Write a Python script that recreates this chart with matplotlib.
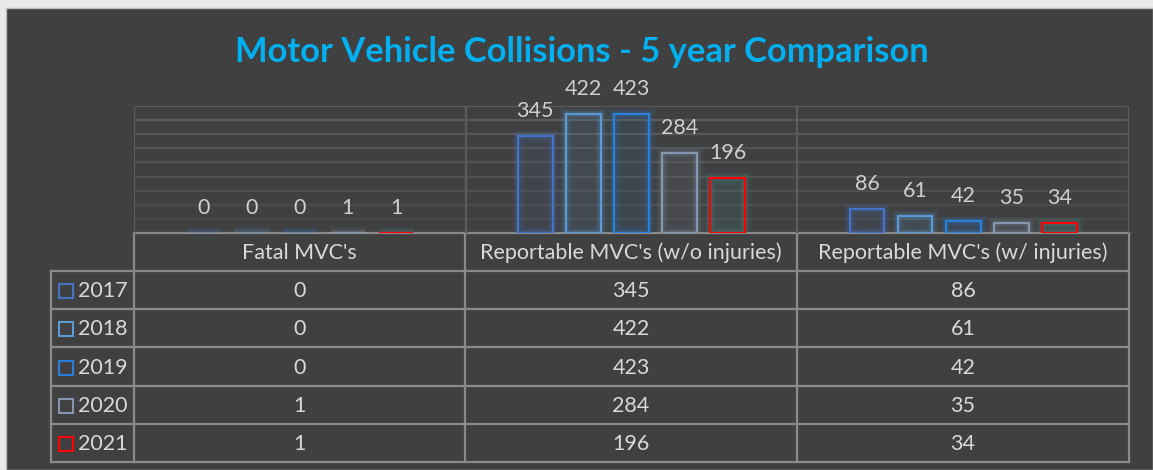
import matplotlib
matplotlib.use('Agg')
import matplotlib.pyplot as plt
import matplotlib.patches as mpatches

# ---- data ----
categories = ["Fatal MVC's", "Reportable MVC's (w/o injuries)", "Reportable MVC's (w/ injuries)"]
years = ['2017', '2018', '2019', '2020', '2021']
v2017 = [0, 345, 86]
v2018 = [0, 422, 61]
v2019 = [0, 423, 42]
v2020 = [1, 284, 35]
v2021 = [1, 196, 34]
series = [v2017, v2018, v2019, v2020, v2021]

edge_colors = ['#4472C4', '#5B9BD5', '#2A7FD9', '#8497B0', '#FF0000']
glow_colors = ['#4472C4', '#5B9BD5', '#2A7FD9', '#8497B0', '#3FA3A3']

BG = '#404040'
GRID = '#5C5C5C'
TABLE_LINE = '#8A8A8A'
TXT = '#D9D9D9'
FONT = ['Lato', 'DejaVu Sans']
plt.rcParams['font.family'] = FONT
FS = 15.5

W, H = 1153, 470
fig = plt.figure(figsize=(W / 100, H / 100), dpi=100)
fig.patch.set_facecolor('#E9E9EC')

# 全图像素坐标的底层 axes（背景面板 + 表格）
base = fig.add_axes([0, 0, 1, 1], zorder=0)
base.set_xlim(0, W)
base.set_ylim(H, 0)
base.axis('off')
base.add_patch(mpatches.Rectangle((6, 8), W - 6, H - 8, facecolor=BG,
                                  edgecolor='#BDBDBD', lw=1.0))

# 标题
base.text(582, 52, 'Motor Vehicle Collisions - 5 year Comparison',
          color='#00B0F0', fontsize=24.8, fontweight='bold',
          ha='center', va='center')

# ---- 柱状图区域 ----
PL, PR, PT, PB = 134, 1129, 106, 233
ax = fig.add_axes([PL / W, (H - PB) / H, (PR - PL) / W, (PB - PT) / H], zorder=1)
ax.patch.set_alpha(0)
ax.set_xlim(-0.5, len(categories) - 0.5)
ax.set_ylim(0, 450)
ax.set_xticks([])
ax.set_yticks([])
for s in ax.spines.values():
    s.set_visible(False)

# 网格线：越往下越淡
grid_vals = list(range(50, 451, 50))
for gv in grid_vals:
    a = 0.25 + 0.75 * gv / 450
    ax.axhline(gv, color=GRID, lw=1.6, alpha=a, zorder=0)
for b in [-0.5, 0.5, 1.5, 2.5]:
    ax.axvline(b, color=GRID, lw=1.6, zorder=0)

STEP = 0.145
BW = 0.105
for j, vals in enumerate(series):
    xs = [i + (j - 2) * STEP for i in range(len(categories))]
    # 发光效果
    ax.bar(xs, vals, width=BW, color=glow_colors[j], alpha=0.10, lw=0, zorder=2)
    for lw, al in [(9, 0.07), (6, 0.09), (4, 0.12)]:
        ax.bar(xs, vals, width=BW, fill=False, edgecolor=glow_colors[j],
               lw=lw, alpha=al, zorder=2)
    lws = [0 if v == 0 else 1.6 for v in vals]
    ax.bar(xs, vals, width=BW, fill=False, edgecolor=edge_colors[j],
           lw=lws, zorder=3)
    for x, v in zip(xs, vals):
        ax.annotate(str(v), (x, v), xytext=(0, 18), textcoords='offset points',
                    ha='center', va='center', color='#CFCFCF', fontsize=FS,
                    annotation_clip=False, clip_on=False, zorder=4)

# ---- 数据表 ----
col_x = [134, 465, 797, 1129]
row_y = [233, 271, 309, 347, 386, 424, 462]
LEFT = 51

lk = dict(color=TABLE_LINE, lw=1.6, solid_capstyle='projecting')
# 表头行
base.plot([col_x[0], col_x[-1]], [row_y[0], row_y[0]], **lk)
for y in row_y[1:]:
    base.plot([LEFT, col_x[-1]], [y, y], **lk)
for x in col_x:
    base.plot([x, x], [row_y[0], row_y[-1]], **lk)
base.plot([LEFT, LEFT], [row_y[1], row_y[-1]], **lk)

for c, name in enumerate(categories):
    cx = (col_x[c] + col_x[c + 1]) / 2
    base.text(cx, (row_y[0] + row_y[1]) / 2 + 1, name, color=TXT, fontsize=FS,
              ha='center', va='center')

for r, (yr, vals) in enumerate(zip(years, series)):
    cy = (row_y[r + 1] + row_y[r + 2]) / 2 + 1
    base.add_patch(mpatches.Rectangle((59, cy - 7), 14, 14, fill=False,
                                      edgecolor=edge_colors[r], lw=1.5))
    base.text(78, cy, yr, color=TXT, fontsize=FS, ha='left', va='center')
    for c, v in enumerate(vals):
        cx = (col_x[c] + col_x[c + 1]) / 2
        base.text(cx, cy, str(v), color=TXT, fontsize=FS, ha='center', va='center')

fig.savefig('out.png', dpi=100, facecolor=fig.get_facecolor())
